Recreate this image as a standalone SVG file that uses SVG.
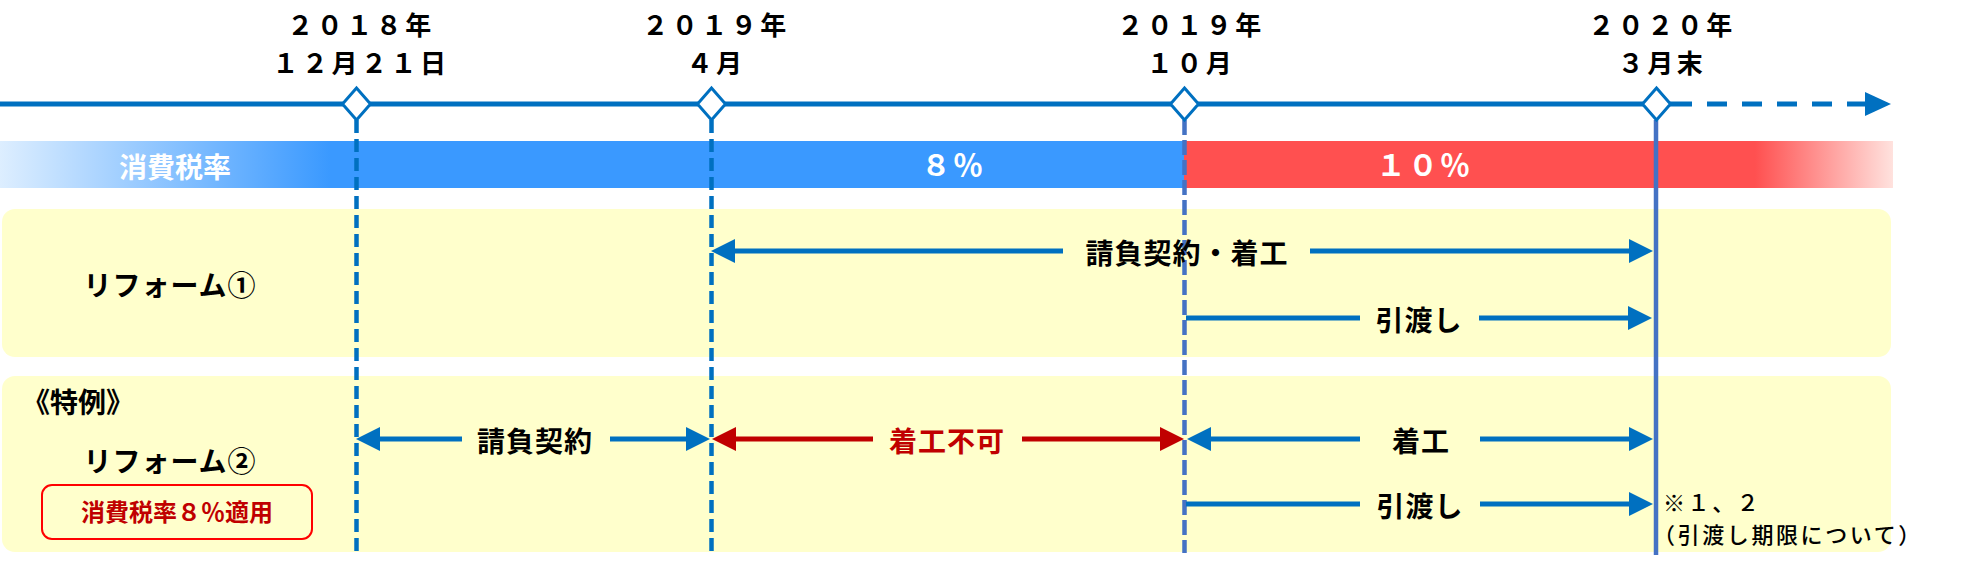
<svg xmlns="http://www.w3.org/2000/svg" width="1979" height="578" viewBox="0 0 1979 578">
<defs>
<style>
text{font-family:"Noto Sans CJK JP","Noto Sans",sans-serif;font-weight:700;fill:#000}
.date{font-size:26px;letter-spacing:3.5px;text-anchor:middle}
.lab{font-size:28px;letter-spacing:1px;text-anchor:middle}
.bar{font-size:30px;fill:#fff;text-anchor:middle;letter-spacing:2px}
.panel{fill:#FFFFCC}
.vline{fill:none;stroke-width:4.5}
.blu{stroke:#0070C0}
.lbl{stroke:#4472C4}
.arr{fill:none;stroke-width:5}
.note{font-size:22px;font-weight:500;letter-spacing:2.6px}
</style>
<linearGradient id="gb" gradientUnits="userSpaceOnUse" x1="0" y1="0" x2="330" y2="0">
<stop offset="0" stop-color="#DDEEFF"/><stop offset="1" stop-color="#3A99FF"/>
</linearGradient>
<linearGradient id="gr" gradientUnits="userSpaceOnUse" x1="1755" y1="0" x2="1893" y2="0">
<stop offset="0" stop-color="#FF5050"/><stop offset="1" stop-color="#FFE2DE"/>
</linearGradient>
<marker id="mb" markerUnits="userSpaceOnUse" markerWidth="24" markerHeight="24" viewBox="0 0 24 24" refX="0" refY="12" orient="auto-start-reverse"><path d="M0,0 L24,12 L0,24 Z" fill="#0070C0"/></marker>
<marker id="mr" markerUnits="userSpaceOnUse" markerWidth="24" markerHeight="24" viewBox="0 0 24 24" refX="0" refY="12" orient="auto-start-reverse"><path d="M0,0 L24,12 L0,24 Z" fill="#C00000"/></marker>
<marker id="mt" markerUnits="userSpaceOnUse" markerWidth="26" markerHeight="24" viewBox="0 0 26 24" refX="0" refY="12" orient="auto"><path d="M0,0 L26,12 L0,24 Z" fill="#0070C0"/></marker>
</defs>

<g id="panel1"><rect class="panel" x="2" y="209" width="1889" height="148" rx="13"/>
<text x="170" y="296" style="font-size:28px;text-anchor:middle;letter-spacing:1px">リフォーム①</text></g>
<g id="panel2"><rect class="panel" x="2" y="376" width="1889" height="176" rx="13"/>
<text x="22" y="413" style="font-size:28px">《特例》</text>
<text x="170" y="472" style="font-size:28px;text-anchor:middle;letter-spacing:1px">リフォーム②</text></g>
<g id="tax-note"><rect x="42" y="485" width="270" height="54" rx="10" fill="none" stroke="#FF0000" stroke-width="2"/>
<text x="177" y="521" style="font-size:24px;fill:#C00000;text-anchor:middle">消費税率８％適用</text></g>

<g id="taxbar">
<rect x="0" y="141" width="1185" height="47" fill="url(#gb)"/>
<rect x="1184" y="141" width="709" height="47" fill="url(#gr)"/>
<text x="175" y="178" style="font-size:28px;fill:#fff;text-anchor:middle">消費税率</text>
<text class="bar" x="953" y="176">８％</text>
<text class="bar" x="1424" y="176">１０％</text>
</g>

<g id="guides">
<line class="vline blu" x1="356.5" y1="120" x2="356.5" y2="552" stroke-dasharray="13 6"/>
<line class="vline blu" x1="711.5" y1="120" x2="711.5" y2="552" stroke-dasharray="13 6"/>
<line class="vline lbl" x1="1184.5" y1="120" x2="1184.5" y2="553" stroke-width="4" stroke-dasharray="15 5"/>
<line class="vline lbl" x1="1656" y1="120" x2="1656" y2="555" stroke-width="4"/>
</g>

<g id="timeline">
<line x1="0" y1="104" x2="1672" y2="104" stroke="#0070C0" stroke-width="5"/>
<line x1="1672" y1="104" x2="1865" y2="104" stroke="#0070C0" stroke-width="5" stroke-dasharray="20 15" marker-end="url(#mt)"/>
</g>

<g id="d2018"><path d="M356.5,88 L370.5,104 L356.5,120 L342.5,104 Z" fill="#fff" stroke="#0070C0" stroke-width="3"/>
<text class="date" x="361" y="35">２０１８年</text><text class="date" x="361" y="73">１２月２１日</text></g>
<g id="d2019-4"><path d="M711.5,88 L725.5,104 L711.5,120 L697.5,104 Z" fill="#fff" stroke="#0070C0" stroke-width="3"/>
<text class="date" x="716" y="35">２０１９年</text><text class="date" x="716" y="73">４月</text></g>
<g id="d2019-10"><path d="M1184.5,88 L1198.5,104 L1184.5,120 L1170.5,104 Z" fill="#fff" stroke="#0070C0" stroke-width="3"/>
<text class="date" x="1191" y="35">２０１９年</text><text class="date" x="1191" y="73">１０月</text></g>
<g id="d2020-3"><path d="M1656.5,88 L1670.5,104 L1656.5,120 L1642.5,104 Z" fill="#fff" stroke="#0070C0" stroke-width="3"/>
<text class="date" x="1662" y="35">２０２０年</text><text class="date" x="1662" y="73">３月末</text></g>

<g id="connectors">
<path class="arr blu" d="M735,251 H1063 M1310,251 H1629" marker-start="url(#mb)" marker-end="url(#mb)"/>
<path class="arr blu" d="M1186,318 H1360 M1479,318 H1628" marker-end="url(#mb)"/>
<path class="arr blu" d="M380,439 H462 M610,439 H686" marker-start="url(#mb)" marker-end="url(#mb)"/>
<path class="arr" stroke="#C00000" d="M736,439 H873 M1022,439 H1160" marker-start="url(#mr)" marker-end="url(#mr)"/>
<path class="arr blu" d="M1211,439 H1360 M1480,439 H1629" marker-start="url(#mb)" marker-end="url(#mb)"/>
<path class="arr blu" d="M1186,504 H1360 M1480,504 H1629" marker-end="url(#mb)"/>
</g>

<g id="labels">
<text class="lab" x="1187" y="264">請負契約・着工</text>
<text class="lab" x="1419" y="331">引渡し</text>
<text class="lab" x="535" y="452">請負契約</text>
<text class="lab" x="947" y="452" style="fill:#C00000">着工不可</text>
<text class="lab" x="1421" y="452">着工</text>
<text class="lab" x="1420" y="517">引渡し</text>
</g>

<g id="note">
<text class="note" x="1663" y="511">※１、２</text>
<text class="note" x="1653" y="543">（引渡し期限について）</text>
</g>
</svg>
